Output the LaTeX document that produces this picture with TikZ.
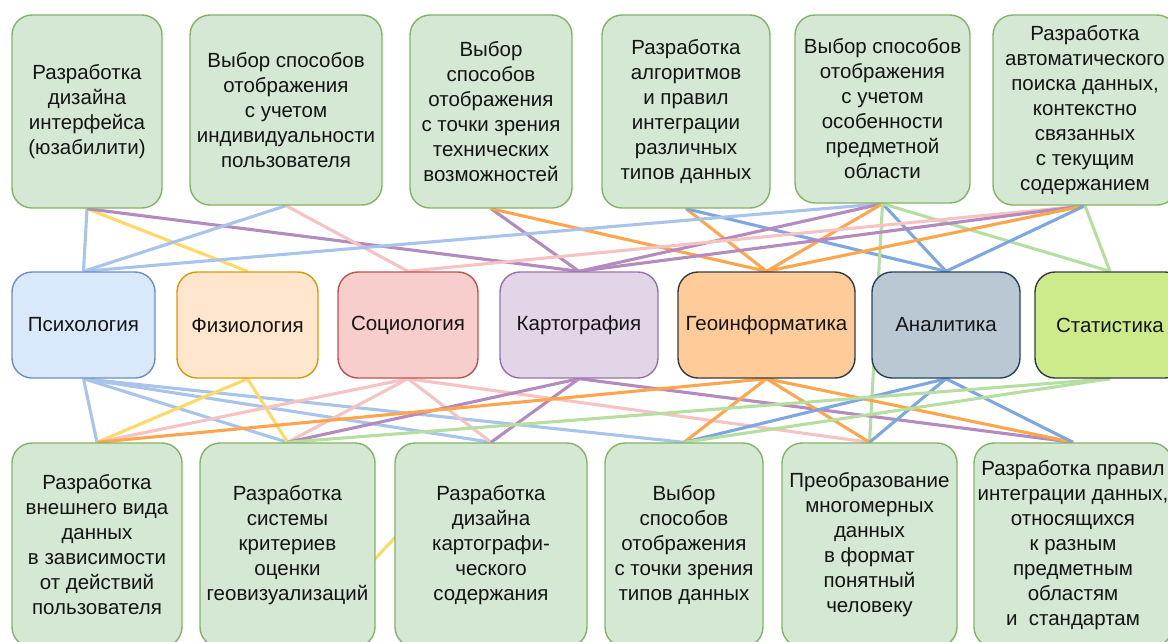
\documentclass[tikz,border=0pt]{standalone}
\usepackage{fontspec}
\setmainfont{Liberation Sans}
\usetikzlibrary{backgrounds}
\definecolor{gfill}{HTML}{D5E8D4}
\definecolor{gdraw}{HTML}{82B366}
\definecolor{psyf}{HTML}{DAE8FC}\definecolor{psyd}{HTML}{6C8EBF}
\definecolor{phyf}{HTML}{FFE6CC}\definecolor{phyd}{HTML}{D79B00}
\definecolor{socf}{HTML}{F8CECC}\definecolor{socd}{HTML}{B85450}
\definecolor{carf}{HTML}{E1D5E7}\definecolor{card}{HTML}{9673A6}
\definecolor{geof}{HTML}{FFCC99}\definecolor{geod}{HTML}{36393D}
\definecolor{anaf}{HTML}{BAC8D3}\definecolor{anad}{HTML}{23445D}
\definecolor{staf}{HTML}{CDEB8B}\definecolor{stad}{HTML}{36393D}
\definecolor{lblue}{HTML}{A9C4EB}
\definecolor{mblue}{HTML}{7EA6E0}
\definecolor{yel}{HTML}{FFD966}
\definecolor{pnk}{HTML}{F6C2C2}
\definecolor{pur}{HTML}{B38BBE}
\definecolor{org}{HTML}{FFA64D}
\definecolor{grn}{HTML}{B5DFA0}
\begin{document}
\begin{tikzpicture}[x=1pt,y=-1pt,
  box/.style={rounded corners=20pt, line width=1.4pt, align=center,
    font=\fontsize{20.5}{25}\selectfont, inner sep=0pt, text=black!92},
  gbox/.style={box, fill=gfill, draw=gdraw},
  mid/.style={box, minimum height=106pt},
  link/.style={line width=3.1pt},
]
\useasboundingbox (0,0) rectangle (1168,641);
\clip (0,0) rectangle (1168,641);
% top row
\node[gbox, minimum width=150pt, minimum height=193pt] (t1) at (87,111.5) {Разработка\\дизайна\\интерфейса\\(юзабилити)};
\node[gbox, minimum width=192pt, minimum height=190pt] (t2) at (286,110) {Выбор способов\\отображения\\с учетом\\индивидуальности\\пользователя};
\node[gbox, minimum width=162pt, minimum height=193pt] (t3) at (491,111.5) {Выбор\\способов\\отображения\\с точки зрения\\технических\\возможностей};
\node[gbox, minimum width=168pt, minimum height=193pt] (t4) at (686,111.5) {Разработка\\алгоритмов\\и правил\\интеграции\\различных\\типов данных};
\node[gbox, minimum width=175pt, minimum height=188pt] (t5) at (882.5,109) {Выбор способов\\отображения\\с учетом\\особенности\\предметной\\области};
\node[gbox, minimum width=184pt, minimum height=190pt] (t6) at (1085,110) {Разработка\\автоматического\\поиска данных,\\контекстно\\связанных\\с текущим\\содержанием};
% middle row
\node[mid, fill=psyf, draw=psyd, minimum width=143pt] (psy) at (83.5,325) {Психология};
\node[mid, fill=phyf, draw=phyd, minimum width=141pt] (phy) at (247.5,325) {Физиология};
\node[mid, fill=socf, draw=socd, minimum width=140pt] (soc) at (408,325) {Социология};
\node[mid, fill=carf, draw=card, minimum width=158pt] (car) at (579,325) {Картография};
\node[mid, fill=geof, draw=geod, minimum width=177pt] (geo) at (766.5,325) {Геоинформатика};
\node[mid, fill=anaf, draw=anad, minimum width=148pt] (ana) at (946,325) {Аналитика};
\node[mid, fill=staf, draw=stad, minimum width=150pt] (sta) at (1110,325) {Статистика};
% bottom row
\node[gbox, minimum width=170pt, minimum height=204pt] (b1) at (97,545) {Разработка\\внешнего вида\\данных\\в зависимости\\от действий\\пользователя};
\node[gbox, minimum width=175pt, minimum height=204pt] (b2) at (287.5,545) {Разработка\\системы\\критериев\\оценки\\геовизуализаций};
\node[gbox, minimum width=192pt, minimum height=204pt] (b3) at (491,545) {Разработка\\дизайна\\картографи-\\ческого\\содержания};
\node[gbox, minimum width=158pt, minimum height=204pt] (b4) at (684,545) {Выбор\\способов\\отображения\\с точки зрения\\типов данных};
\node[gbox, minimum width=175pt, minimum height=204pt] (b5) at (869.5,545) {Преобразование\\многомерных\\данных\\в формат\\понятный\\человеку};
\node[gbox, minimum width=198pt, minimum height=204pt] (b6) at (1073,545) {Разработка правил\\интеграции данных,\\относящихся\\к разным\\предметным\\областям\\и~~стандартам};
\coordinate (ya) at (345,591);
\coordinate (yb) at (430,500);
\begin{scope}[on background layer]
% top -> middle
\draw[link, lblue] (t1.south) -- (psy.north);
\draw[link, yel] (t1.south) -- (phy.north);
\draw[link, pur] (t1.south) -- (car.north);
\draw[link, lblue] (t2.south) -- (psy.north);
\draw[link, pnk] (t2.south) -- (soc.north);
\draw[link, pur] (t3.south) -- (car.north);
\draw[link, org] (t3.south) -- (geo.north);
\draw[link, org] (t4.south) -- (geo.north);
\draw[link, mblue] (t4.south) -- (ana.north);
\draw[link, lblue] (t5.south) -- (psy.north);
\draw[link, pur] (t5.south) -- (car.north);
\draw[link, org] (t5.south) -- (geo.north);
\draw[link, mblue] (t5.south) -- (ana.north);
\draw[link, grn] (t5.south) -- (sta.north);
\draw[link, grn] (t5.south) -- (b5.north);
\draw[link, pnk] (t6.south) -- (soc.north);
\draw[link, pur] (t6.south) -- (car.north);
\draw[link, org] (t6.south) -- (geo.north);
\draw[link, mblue] (t6.south) -- (ana.north);
\draw[link, grn] (t6.south) -- (sta.north);
% middle -> bottom
\draw[link, lblue] (psy.south) -- (b1.north);
\draw[link, lblue] (psy.south) -- (b2.north);
\draw[link, lblue] (psy.south) -- (b3.north);
\draw[link, lblue] (psy.south) -- (b4.north);
\draw[link, yel] (phy.south) -- (b1.north);
\draw[link, yel] (phy.south) -- (b2.north);
\draw[link, pnk] (soc.south) -- (b1.north);
\draw[link, pnk] (soc.south) -- (b2.north);
\draw[link, pnk] (soc.south) -- (b3.north);
\draw[link, pnk] (soc.south) -- (b5.north);
\draw[link, pur] (car.south) -- (b2.north);
\draw[link, pur] (car.south) -- (b3.north);
\draw[link, pur] (car.south) -- (b6.north);
\draw[link, org] (geo.south) -- (b1.north);
\draw[link, org] (geo.south) -- (b4.north);
\draw[link, org] (geo.south) -- (b5.north);
\draw[link, org] (geo.south) -- (b6.north);
\draw[link, mblue] (ana.south) -- (b4.north);
\draw[link, mblue] (ana.south) -- (b5.north);
\draw[link, mblue] (ana.south) -- (b6.north);
\draw[link, grn] (sta.south) -- (b2.north);
\draw[link, grn] (sta.south) -- (b4.north);
\draw[link, yel] (ya) -- (yb);
\end{scope}
\end{tikzpicture}
\end{document}
